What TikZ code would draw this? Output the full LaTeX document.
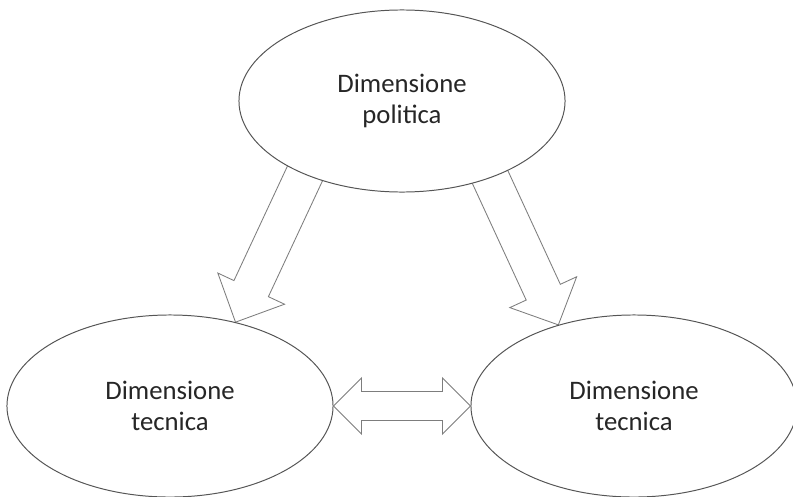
\documentclass[tikz,border=0pt]{standalone}
\usepackage{fontspec}
\setmainfont{Carlito}
\usepackage{tikz}
\usetikzlibrary{shapes.geometric}
\usetikzlibrary{calc, backgrounds}
\definecolor{rand}{RGB}{85,85,85}
\definecolor{pfeilgrau}{RGB}{125,125,125}

\tikzset{
  dimensione/.style={ellipse, draw=rand, line width=0.7pt, fill=white, minimum width=8.15cm, minimum height=4.55cm, inner sep=0pt, align=center, text=black!85, font=\fontsize{19}{22}\selectfont},
  % hollow block arrow: head length, head half width, shaft half width
  freccia/.style n args={3}{draw=pfeilgrau, line width=0.6pt, fill=white,
    to path={
      ($(\tikztostart)!#3!-90:(\tikztotarget)$)
      -- ($(\tikztotarget)!#1!(\tikztostart)!#3!90:(\tikztostart)$)
      -- ($(\tikztotarget)!#1!(\tikztostart)!#2!90:(\tikztostart)$)
      -- (\tikztotarget)
      -- ($(\tikztotarget)!#1!(\tikztostart)!#2!-90:(\tikztostart)$)
      -- ($(\tikztotarget)!#1!(\tikztostart)!#3!-90:(\tikztostart)$)
      -- ($(\tikztostart)!#3!90:(\tikztotarget)$)
      -- cycle}},
  doppiafreccia/.style n args={3}{draw=pfeilgrau, line width=0.6pt, fill=white,
    to path={
      (\tikztostart)
      -- ($(\tikztostart)!#1!(\tikztotarget)!#2!90:(\tikztotarget)$)
      -- ($(\tikztostart)!#1!(\tikztotarget)!#3!90:(\tikztotarget)$)
      -- ($(\tikztotarget)!#1!(\tikztostart)!#3!-90:(\tikztostart)$)
      -- ($(\tikztotarget)!#1!(\tikztostart)!#2!-90:(\tikztostart)$)
      -- (\tikztotarget)
      -- ($(\tikztotarget)!#1!(\tikztostart)!#2!90:(\tikztostart)$)
      -- ($(\tikztotarget)!#1!(\tikztostart)!#3!90:(\tikztostart)$)
      -- ($(\tikztostart)!#1!(\tikztotarget)!#3!-90:(\tikztotarget)$)
      -- ($(\tikztostart)!#1!(\tikztotarget)!#2!-90:(\tikztotarget)$)
      -- cycle}}
}

\begin{document}
\begin{tikzpicture}[x=0.025cm, y=0.025cm]

    \useasboundingbox (0,0) rectangle (793,496);

    \node[dimensione] (politica) at (402,395) {Dimensione\\politica};
    \node[dimensione] (tecnicaSx) at (170,90) {Dimensione\\tecnica};
    \node[dimensione] (tecnicaDx) at (634,90) {Dimensione\\tecnica};

    % arrows start inside the top ellipse, its white fill hides the ends
    \coordinate (partenzaSx) at ($(politica.217)!-0.4cm!(tecnicaSx.52)$);
    \coordinate (partenzaDx) at ($(politica.319)!-0.4cm!(tecnicaDx.133)$);

    \begin{scope}[on background layer]
        \draw[freccia={0.925cm}{0.92cm}{0.475cm}] (partenzaSx) to (tecnicaSx.52);
        \draw[freccia={0.9cm}{0.92cm}{0.47cm}] (partenzaDx) to (tecnicaDx.133);
    \end{scope}

    \draw[doppiafreccia={0.7cm}{0.7cm}{0.3625cm}] (tecnicaSx.east) to (tecnicaDx.west);

\end{tikzpicture}
\end{document}
